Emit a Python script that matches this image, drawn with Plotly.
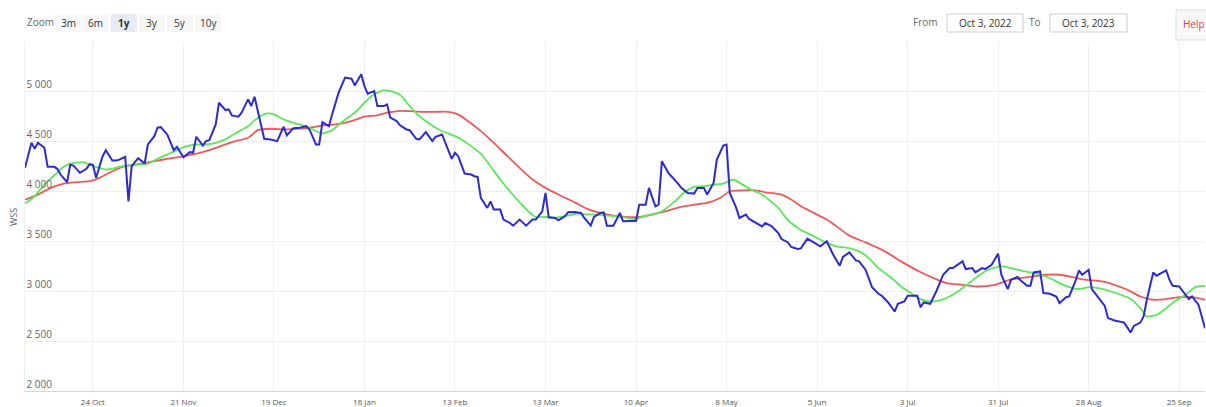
import pandas as pd
import plotly.graph_objects as go

START = pd.Timestamp("2022-10-03")
END = pd.Timestamp("2023-10-03")

# Daily series (days since Oct 3, 2022 -> value)
price_day = [0, 2, 3, 4, 6, 7, 9, 10, 11, 13, 14, 15, 17, 19, 20, 21, 22, 24, 25, 27, 28, 29, 31, 32, 33, 35, 37, 38, 40, 41,
             42, 44, 46, 47, 49, 51, 52, 53, 55, 56, 57, 59, 60, 62, 63, 64, 66, 67, 69, 70, 71, 73, 74, 76, 78, 80, 81, 83, 85, 87,
             88, 90, 91, 92, 94, 95, 97, 99, 101, 102, 104, 105, 106, 108, 109, 111, 112, 113, 115, 116, 118, 119, 121, 122, 124, 126, 127, 129, 130, 132,
             133, 134, 136, 138, 139, 140, 141, 143, 144, 145, 147, 148, 150, 151, 153, 154, 155, 157, 158, 160, 161, 162, 164, 165, 167, 168, 170, 172, 173, 175,
             176, 178, 179, 180, 182, 184, 185, 187, 189, 190, 192, 193, 195, 196, 197, 199, 200, 202, 203, 205, 207, 208, 210, 211, 213, 214, 216, 217, 218, 220,
             221, 223, 224, 226, 228, 229, 231, 233, 234, 236, 237, 239, 240, 242, 244, 246, 248, 250, 252, 253, 255, 257, 258, 260, 262, 264, 265, 267, 269, 270,
             272, 273, 274, 276, 277, 278, 280, 282, 284, 286, 287, 290, 291, 293, 294, 296, 297, 299, 301, 302, 304, 305, 307, 308, 310, 311, 312, 314, 315, 317,
             319, 320, 322, 323, 325, 326, 327, 329, 330, 332, 334, 335, 337, 340, 342, 343, 345, 346, 347, 349, 350, 353, 354, 355, 357, 360, 361, 363, 365]
price_val = [4238, 4489, 4429, 4489, 4439, 4248, 4248, 4228, 4171, 4094, 4268, 4260, 4188, 4228, 4275, 4268, 4138, 4355, 4415, 4311, 4311, 4318, 4348, 3902, 4254, 4335, 4281, 4472, 4556, 4640,
             4646, 4573, 4415, 4449, 4345, 4395, 4389, 4550, 4462, 4506, 4516, 4673, 4891, 4817, 4824, 4764, 4751, 4791, 4925, 4858, 4951, 4690, 4529, 4523, 4506, 4650, 4563, 4636, 4640, 4656,
             4623, 4472, 4472, 4697, 4656, 4774, 4992, 5143, 5132, 5065, 5176, 5058, 4982, 5008, 4857, 4857, 4874, 4741, 4707, 4665, 4623, 4616, 4529, 4523, 4596, 4506, 4549, 4573, 4489, 4328,
             4389, 4355, 4181, 4171, 4154, 4147, 3937, 3836, 3902, 3819, 3819, 3719, 3685, 3658, 3719, 3692, 3658, 3719, 3719, 3802, 3986, 3742, 3735, 3712, 3752, 3792, 3795, 3786, 3735, 3658,
             3745, 3786, 3792, 3658, 3658, 3786, 3702, 3705, 3705, 3869, 3869, 4037, 3852, 3869, 4305, 4188, 4154, 4080, 4037, 3986, 3980, 4037, 4037, 3970, 4087, 4321, 4462, 4472, 3986, 3836,
             3735, 3769, 3725, 3692, 3651, 3685, 3651, 3584, 3524, 3490, 3444, 3424, 3430, 3528, 3490, 3450, 3501, 3367, 3256, 3344, 3390, 3310, 3300, 3216, 3042, 2975, 2955, 2888, 2797, 2874,
             2898, 2955, 2955, 2955, 2841, 2888, 2874, 3008, 3166, 3233, 3233, 3300, 3223, 3233, 3189, 3233, 3223, 3266, 3377, 3166, 3022, 3116, 3143, 3109, 3055, 3055, 3189, 3199, 2982, 2975,
             2948, 2881, 2941, 2948, 3109, 3209, 3166, 3216, 3022, 2932, 2854, 2731, 2707, 2686, 2586, 2653, 2686, 2747, 2915, 3189, 3156, 3209, 3116, 3055, 3048, 2922, 2948, 2864, 2630]

# Short moving-average line
short_day = [0, 3, 6, 9, 12, 14, 18, 20, 23, 25, 28, 31, 35, 38, 41, 44, 47, 50, 53, 56, 59, 62, 65, 69, 72, 75, 77, 80, 83, 86,
             89, 92, 95, 98, 102, 105, 108, 111, 113, 116, 119, 122, 125, 128, 131, 135, 138, 141, 144, 147, 150, 153, 156, 158, 161, 164, 168, 171, 174, 177,
             180, 183, 186, 189, 192, 195, 197, 201, 204, 207, 210, 213, 216, 219, 222, 225, 228, 230, 233, 235, 237, 240, 243, 247, 251, 255, 258, 261, 264, 268,
             271, 274, 277, 280, 283, 286, 289, 292, 295, 298, 302, 305, 308, 311, 314, 317, 320, 323, 326, 329, 332, 336, 339, 342, 345, 347, 350, 353, 356, 359,
             362, 365]
short_val = [3879, 3953, 4070, 4161, 4248, 4281, 4295, 4271, 4238, 4221, 4238, 4261, 4271, 4281, 4328, 4372, 4415, 4455, 4472, 4472, 4489, 4523, 4583, 4656, 4741, 4784, 4774, 4724, 4690, 4663,
             4623, 4583, 4616, 4697, 4791, 4891, 4975, 5015, 5008, 4970, 4857, 4757, 4683, 4623, 4583, 4523, 4456, 4379, 4254, 4121, 4003, 3892, 3792, 3745, 3745, 3739, 3759, 3779, 3772, 3769,
             3759, 3752, 3739, 3725, 3759, 3779, 3802, 3902, 3993, 4047, 4054, 4070, 4080, 4121, 4070, 4013, 3970, 3920, 3836, 3752, 3685, 3615, 3568, 3501, 3450, 3434, 3400, 3333, 3233, 3133,
             3048, 2982, 2922, 2898, 2908, 2948, 3008, 3082, 3156, 3216, 3250, 3233, 3209, 3189, 3166, 3133, 3082, 3042, 3022, 3042, 3032, 2998, 2965, 2922, 2831, 2747, 2764, 2831, 2908, 2965,
             3042, 3055]

# Long moving-average line
long_day = [0, 4, 8, 12, 16, 20, 23, 27, 31, 36, 40, 44, 48, 52, 56, 60, 64, 69, 72, 76, 80, 84, 88, 92, 96, 101, 105, 109, 112, 116,
            119, 123, 127, 131, 134, 137, 141, 145, 149, 153, 157, 161, 165, 170, 174, 178, 182, 186, 190, 194, 198, 203, 207, 211, 215, 218, 222, 226, 229, 234,
            237, 240, 244, 248, 251, 255, 260, 266, 271, 276, 281, 285, 290, 295, 300, 304, 308, 312, 316, 320, 324, 328, 333, 337, 341, 345, 349, 353, 357, 361,
            365]
long_val = [3919, 3970, 4037, 4080, 4094, 4104, 4138, 4204, 4254, 4281, 4305, 4328, 4348, 4372, 4405, 4449, 4496, 4540, 4616, 4630, 4623, 4630, 4640, 4663, 4673, 4707, 4751, 4764, 4791, 4810,
            4807, 4800, 4800, 4800, 4774, 4707, 4606, 4489, 4362, 4238, 4121, 4037, 3970, 3892, 3826, 3786, 3759, 3745, 3745, 3769, 3802, 3846, 3869, 3886, 3936, 4003, 4013, 4013, 3993, 3970,
            3920, 3852, 3786, 3719, 3651, 3558, 3490, 3400, 3300, 3209, 3133, 3082, 3065, 3048, 3065, 3109, 3133, 3149, 3166, 3166, 3143, 3116, 3099, 3065, 3015, 2948, 2915, 2922, 2941, 2941,
            2915]

y_ticks = [2000, 2500, 3000, 3500, 4000, 4500, 5000, 5500]
y_tick_text = ["2 000", "2 500", "3 000", "3 500", "4 000", "4 500", "5 000", ""]
zoom_buttons = ["3m", "6m", "1y", "3y", "5y", "10y"]
active_button = "1y"
from_text = "Oct 3, 2022"
to_text = "Oct 3, 2023"
axis_title = "WSS"


def to_dates(days):
    return [START + pd.Timedelta(days=d) for d in days]


FONT = "Open Sans, Noto Sans, sans-serif"
W, H = 1206, 407
ML, MR, MT, MB = 25, 1, 42, 16
PW, PH = W - ML - MR, H - MT - MB


def px(x):
    return (x - ML) / PW


def py(y):
    return (H - MB - y) / PH


fig = go.Figure()
fig.add_trace(go.Scatter(x=to_dates(long_day), y=long_val, mode="lines", line=dict(color="#f05858", width=1.8, shape="spline", smoothing=0.6), name="MA long"))
fig.add_trace(go.Scatter(x=to_dates(short_day), y=short_val, mode="lines", line=dict(color="#5ce65c", width=1.8, shape="spline", smoothing=0.6), name="MA short"))
fig.add_trace(go.Scatter(x=to_dates(price_day), y=price_val, mode="lines", line=dict(color="#2b2bd0", width=2), name="Price"))

shapes = []
annotations = []

# Zoom label + buttons
annotations.append(dict(x=px(25), y=py(22), xref="paper", yref="paper", text="Zoom", showarrow=False,
                        xanchor="left", yanchor="middle", font=dict(family=FONT, size=10, color="#666666")))
btn_centers = [68, 95, 124, 152, 180, 208]
for label, cx in zip(zoom_buttons, btn_centers):
    active = label == active_button
    shapes.append(dict(type="rect", xref="paper", yref="paper", x0=px(cx - 13), x1=px(cx + 13), y0=py(32), y1=py(14),
                       fillcolor="#e6ebf5" if active else "#f7f7f7", line=dict(width=0), layer="below"))
    annotations.append(dict(x=px(cx), y=py(23), xref="paper", yref="paper", text=f"<b>{label}</b>" if active else label,
                            showarrow=False, xanchor="center", yanchor="middle",
                            font=dict(family=FONT, size=10, color="#333333")))

# From / To boxes
annotations.append(dict(x=px(940), y=py(22), xref="paper", yref="paper", text="From", showarrow=False,
                        xanchor="right", yanchor="middle", font=dict(family=FONT, size=10, color="#666666")))
shapes.append(dict(type="rect", xref="paper", yref="paper", x0=px(947), x1=px(1023), y0=py(32), y1=py(14),
                   fillcolor="white", line=dict(color="#cccccc", width=1)))
annotations.append(dict(x=px(985), y=py(23), xref="paper", yref="paper", text=from_text, showarrow=False,
                        xanchor="center", yanchor="middle", font=dict(family=FONT, size=10, color="#333333")))
annotations.append(dict(x=px(1043), y=py(22), xref="paper", yref="paper", text="To", showarrow=False,
                        xanchor="right", yanchor="middle", font=dict(family=FONT, size=10, color="#666666")))
shapes.append(dict(type="rect", xref="paper", yref="paper", x0=px(1050), x1=px(1127), y0=py(32), y1=py(14),
                   fillcolor="white", line=dict(color="#cccccc", width=1)))
annotations.append(dict(x=px(1088), y=py(23), xref="paper", yref="paper", text=to_text, showarrow=False,
                        xanchor="center", yanchor="middle", font=dict(family=FONT, size=10, color="#333333")))

# Help button
shapes.append(dict(type="rect", xref="paper", yref="paper", x0=px(1176), x1=px(1215), y0=py(40), y1=py(10),
                   fillcolor="#f8f8f8", line=dict(color="#dddddd", width=1)))
annotations.append(dict(x=px(1181), y=py(24), xref="paper", yref="paper", text="Help", showarrow=False,
                        xanchor="left", yanchor="middle", font=dict(family=FONT, size=10, color="#e8384f")))

# Y axis title
annotations.append(dict(x=px(13), y=py(217), xref="paper", yref="paper", text=axis_title, showarrow=False,
                        textangle=-90, xanchor="center", yanchor="middle", font=dict(family=FONT, size=9, color="#666666")))

fig.update_layout(
    width=W, height=H,
    margin=dict(l=ML, r=MR, t=MT, b=MB),
    paper_bgcolor="white", plot_bgcolor="white",
    showlegend=False,
    shapes=shapes, annotations=annotations,
    font=dict(family=FONT, size=10, color="#666666"),
    hovermode=False,
)
fig.update_xaxes(
    type="date", range=[START, END],
    tick0="2022-10-24", dtick=28 * 86400000, tickformat="%-d %b",
    showgrid=True, gridcolor="#eeeeee", gridwidth=1,
    showline=True, linecolor="#ccd6eb", linewidth=1,
    ticks="", ticklabelstandoff=3, tickfont=dict(family=FONT, size=8, color="#555555"),
    zeroline=False, fixedrange=True,
)
fig.update_yaxes(
    range=[2000, 5500], tickvals=y_ticks, ticktext=y_tick_text,
    ticklabelposition="inside top", tickfont=dict(family=FONT, size=10, color="#666666"),
    showgrid=True, gridcolor="#eeeeee", gridwidth=1,
    showline=True, linecolor="#f0f0f0", linewidth=1,
    zeroline=False, fixedrange=True,
)

fig.write_html(
    "out.html",
    config={"displayModeBar": False},
    post_script="document.body.style.margin='0';document.body.style.overflow='hidden';",
)
